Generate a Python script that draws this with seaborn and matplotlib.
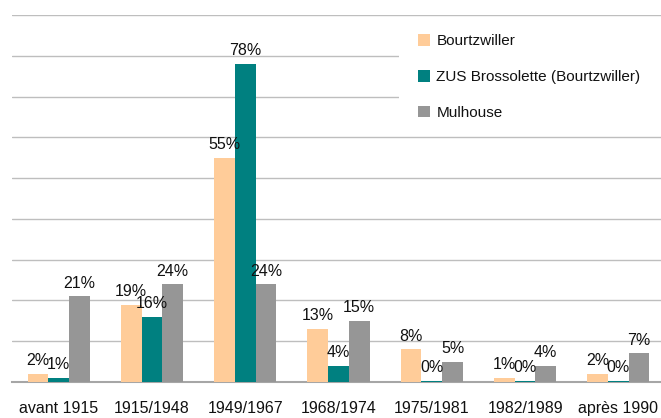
"""Grouped bar chart: construction period shares for Bourtzwiller, ZUS Brossolette and Mulhouse."""

import numpy as np
import pandas as pd
import matplotlib
matplotlib.use("Agg")
import matplotlib.pyplot as plt
import seaborn as sns
from matplotlib.patches import Rectangle

periods = ["avant 1915", "1915/1948", "1949/1967", "1968/1974",
           "1975/1981", "1982/1989", "après 1990"]
series = ["Bourtzwiller", "ZUS Brossolette (Bourtzwiller)", "Mulhouse"]
bourtzwiller = [2, 19, 55, 13, 8, 1, 2]
zus = [1, 16, 78, 4, 0.3, 0.3, 0.3]
mulhouse = [21, 24, 24, 15, 5, 4, 7]
colors = ["#FFCC99", "#008080", "#969696"]

df = pd.DataFrame({
    "period": periods * 3,
    "series": [s for s in series for _ in periods],
    "value": bourtzwiller + zus + mulhouse,
})

sns.set_style("white")
plt.rcParams["font.family"] = ["Liberation Sans", "DejaVu Sans"]

fig = plt.figure(figsize=(6.61, 4.18), dpi=100)
ax = fig.add_axes([12 / 661, 36 / 418, 653 / 661, 367 / 418])

sns.barplot(data=df, x="period", y="value", hue="series", order=periods,
            hue_order=series, palette=colors, saturation=1, width=0.667,
            linewidth=0, ax=ax, zorder=3)

for cont in ax.containers:
    ax.bar_label(cont, labels=[f"{v:.0f}%" for v in cont.datavalues],
                 padding=4, fontsize=11.5, color="#111111")

ax.set_xlim(-0.5, 6.5)
ax.set_ylim(0, 90)
ax.set_yticks(np.arange(10, 91, 10))
ax.set_yticklabels([])
ax.tick_params(axis="y", length=0)
ax.yaxis.grid(True, color="#BEBEBE", linewidth=1)
ax.set_axisbelow(True)
for side in ["left", "right", "top"]:
    ax.spines[side].set_visible(False)
ax.spines["bottom"].set_color("#A6A6A6")
ax.spines["bottom"].set_linewidth(1.5)

ax.set_xticks(np.arange(-0.5, 7, 1), minor=True)
ax.tick_params(axis="x", which="major", length=0, labelsize=11.5, pad=14,
               labelcolor="#111111")
ax.tick_params(axis="x", which="minor", length=5, width=1.5, color="#A6A6A6")
ax.set_xlabel("")
ax.set_ylabel("")

# white legend box that hides the gridlines behind it
fig.patches.append(Rectangle((399 / 661, 1 - 132 / 418), 262 / 661, 112 / 418,
                             transform=fig.transFigure, facecolor="white",
                             edgecolor="none", zorder=1))
ax.set_zorder(0)
ax.patch.set_alpha(0)

leg = fig.legend(*ax.get_legend_handles_labels(), loc="upper left",
                 bbox_to_anchor=(418 / 661, 1 - 34 / 418),
                 frameon=False, fontsize=11,
                 handlelength=0.8, handleheight=0.8, handletextpad=0.4,
                 labelspacing=1.42, borderpad=0, borderaxespad=0)
leg.set_zorder(5)
ax.get_legend().remove()
for t in leg.get_texts():
    t.set_color("#111111")

fig.savefig("out.png", dpi=100)
